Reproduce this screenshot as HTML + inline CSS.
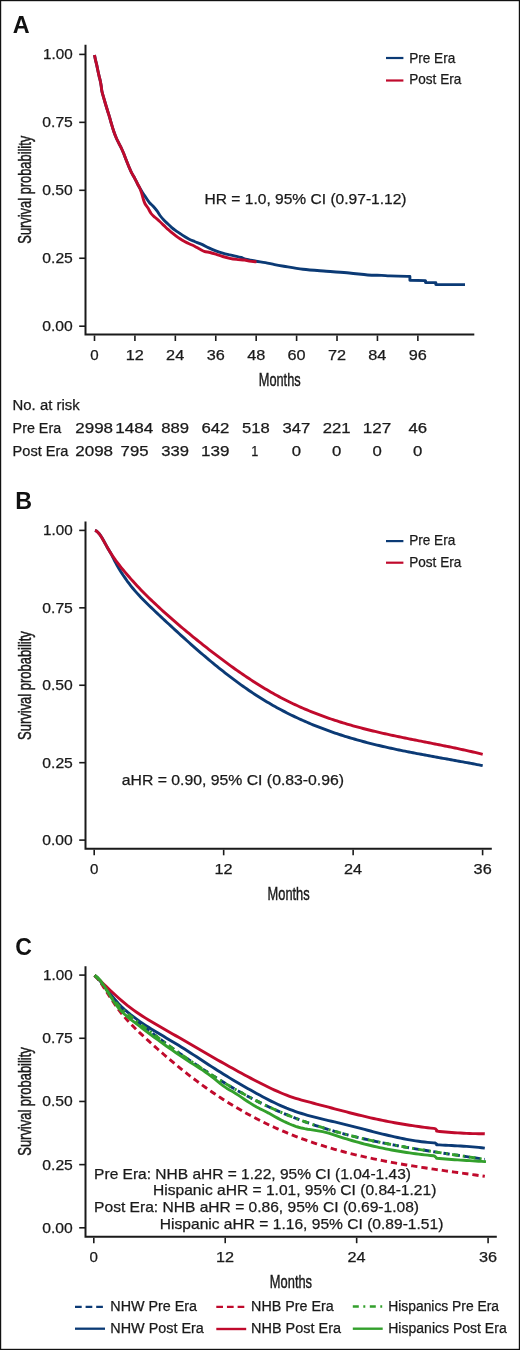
<!DOCTYPE html>
<html><head><meta charset="utf-8"><title>Survival curves</title>
<style>html,body{margin:0;padding:0;background:#fff;}svg{display:block;font-family:"Liberation Sans",sans-serif;will-change:transform;}</style>
</head><body>
<svg width="520" height="1350" viewBox="0 0 520 1350">
<rect x="0" y="0" width="520" height="1350" fill="#fff"/>
<rect x="0.6" y="0.6" width="518.8" height="1348.8" fill="none" stroke="#111" stroke-width="1.2"/>
<text x="12.72" y="32.70" font-size="24.00" font-weight="bold" textLength="16.90" lengthAdjust="spacingAndGlyphs" fill="#111">A</text>
<path d="M85.5,44.80 V334.50 H474.30" fill="none" stroke="#1a1a1a" stroke-width="2"/>
<line x1="79.2" x2="85" y1="54.40" y2="54.40" stroke="#1a1a1a" stroke-width="1.6"/>
<text x="43.14" y="59.40" font-size="14.40" textLength="29.66" lengthAdjust="spacingAndGlyphs" fill="#1a1a1a" stroke="#1a1a1a" stroke-width="0.25">1.00</text>
<line x1="79.2" x2="85" y1="122.35" y2="122.35" stroke="#1a1a1a" stroke-width="1.6"/>
<text x="42.29" y="127.35" font-size="14.40" textLength="30.57" lengthAdjust="spacingAndGlyphs" fill="#1a1a1a" stroke="#1a1a1a" stroke-width="0.25">0.75</text>
<line x1="79.2" x2="85" y1="190.30" y2="190.30" stroke="#1a1a1a" stroke-width="1.6"/>
<text x="42.29" y="195.30" font-size="14.40" textLength="30.53" lengthAdjust="spacingAndGlyphs" fill="#1a1a1a" stroke="#1a1a1a" stroke-width="0.25">0.50</text>
<line x1="79.2" x2="85" y1="258.25" y2="258.25" stroke="#1a1a1a" stroke-width="1.6"/>
<text x="42.29" y="263.25" font-size="14.40" textLength="30.57" lengthAdjust="spacingAndGlyphs" fill="#1a1a1a" stroke="#1a1a1a" stroke-width="0.25">0.25</text>
<line x1="79.2" x2="85" y1="326.20" y2="326.20" stroke="#1a1a1a" stroke-width="1.6"/>
<text x="42.29" y="331.20" font-size="14.40" textLength="30.53" lengthAdjust="spacingAndGlyphs" fill="#1a1a1a" stroke="#1a1a1a" stroke-width="0.25">0.00</text>
<line x1="94.50" x2="94.50" y1="335.50" y2="341.00" stroke="#1a1a1a" stroke-width="1.6"/>
<text x="90.30" y="359.60" font-size="14.40" textLength="8.41" lengthAdjust="spacingAndGlyphs" fill="#1a1a1a" stroke="#1a1a1a" stroke-width="0.25">0</text>
<line x1="134.92" x2="134.92" y1="335.50" y2="341.00" stroke="#1a1a1a" stroke-width="1.6"/>
<text x="125.66" y="359.60" font-size="14.40" textLength="18.10" lengthAdjust="spacingAndGlyphs" fill="#1a1a1a" stroke="#1a1a1a" stroke-width="0.25">12</text>
<line x1="175.34" x2="175.34" y1="335.50" y2="341.00" stroke="#1a1a1a" stroke-width="1.6"/>
<text x="166.12" y="359.60" font-size="14.40" textLength="18.10" lengthAdjust="spacingAndGlyphs" fill="#1a1a1a" stroke="#1a1a1a" stroke-width="0.25">24</text>
<line x1="215.76" x2="215.76" y1="335.50" y2="341.00" stroke="#1a1a1a" stroke-width="1.6"/>
<text x="206.76" y="359.60" font-size="14.40" textLength="18.10" lengthAdjust="spacingAndGlyphs" fill="#1a1a1a" stroke="#1a1a1a" stroke-width="0.25">36</text>
<line x1="256.18" x2="256.18" y1="335.50" y2="341.00" stroke="#1a1a1a" stroke-width="1.6"/>
<text x="247.30" y="359.60" font-size="14.40" textLength="18.10" lengthAdjust="spacingAndGlyphs" fill="#1a1a1a" stroke="#1a1a1a" stroke-width="0.25">48</text>
<line x1="296.60" x2="296.60" y1="335.50" y2="341.00" stroke="#1a1a1a" stroke-width="1.6"/>
<text x="287.45" y="359.60" font-size="14.40" textLength="18.10" lengthAdjust="spacingAndGlyphs" fill="#1a1a1a" stroke="#1a1a1a" stroke-width="0.25">60</text>
<line x1="337.02" x2="337.02" y1="335.50" y2="341.00" stroke="#1a1a1a" stroke-width="1.6"/>
<text x="327.96" y="359.60" font-size="14.40" textLength="18.10" lengthAdjust="spacingAndGlyphs" fill="#1a1a1a" stroke="#1a1a1a" stroke-width="0.25">72</text>
<line x1="377.44" x2="377.44" y1="335.50" y2="341.00" stroke="#1a1a1a" stroke-width="1.6"/>
<text x="368.28" y="359.60" font-size="14.40" textLength="18.10" lengthAdjust="spacingAndGlyphs" fill="#1a1a1a" stroke="#1a1a1a" stroke-width="0.25">84</text>
<line x1="417.86" x2="417.86" y1="335.50" y2="341.00" stroke="#1a1a1a" stroke-width="1.6"/>
<text x="408.79" y="359.60" font-size="14.40" textLength="18.10" lengthAdjust="spacingAndGlyphs" fill="#1a1a1a" stroke="#1a1a1a" stroke-width="0.25">96</text>
<text x="258.75" y="385.60" font-size="19.20" textLength="41.91" lengthAdjust="spacingAndGlyphs" fill="#1a1a1a" stroke="#1a1a1a" stroke-width="0.45">Months</text>
<g transform="translate(31.20,0) rotate(-90)"><text x="-243.68" y="0.00" font-size="19.00" textLength="107.91" lengthAdjust="spacingAndGlyphs" fill="#1a1a1a" stroke="#1a1a1a" stroke-width="0.45">Survival probability</text></g>
<line x1="386" x2="403.4" y1="58" y2="58" stroke="#0b3a75" stroke-width="2.2"/>
<line x1="386" x2="403.4" y1="80.5" y2="80.5" stroke="#c00a2c" stroke-width="2.2"/>
<text x="409.18" y="62.60" font-size="14.20" textLength="46.12" lengthAdjust="spacingAndGlyphs" fill="#1a1a1a" stroke="#1a1a1a" stroke-width="0.25">Pre Era</text>
<text x="409.19" y="84.40" font-size="14.20" textLength="52.11" lengthAdjust="spacingAndGlyphs" fill="#1a1a1a" stroke="#1a1a1a" stroke-width="0.25">Post Era</text>
<text x="204.52" y="203.80" font-size="14.40" textLength="202.04" lengthAdjust="spacingAndGlyphs" fill="#1a1a1a" stroke="#1a1a1a" stroke-width="0.25">HR = 1.0, 95% CI (0.97-1.12)</text>
<text x="12.58" y="409.50" font-size="14.00" textLength="67.00" lengthAdjust="spacingAndGlyphs" fill="#1a1a1a" stroke="#1a1a1a" stroke-width="0.25">No. at risk</text>
<text x="12.63" y="432.50" font-size="14.00" textLength="48.47" lengthAdjust="spacingAndGlyphs" fill="#1a1a1a" stroke="#1a1a1a" stroke-width="0.25">Pre Era</text>
<text x="12.60" y="455.50" font-size="14.00" textLength="55.90" lengthAdjust="spacingAndGlyphs" fill="#1a1a1a" stroke="#1a1a1a" stroke-width="0.25">Post Era</text>
<text x="75.25" y="432.80" font-size="13.80" textLength="37.79" lengthAdjust="spacingAndGlyphs" fill="#1a1a1a" stroke="#1a1a1a" stroke-width="0.25">2998</text>
<text x="75.25" y="455.50" font-size="13.80" textLength="37.79" lengthAdjust="spacingAndGlyphs" fill="#1a1a1a" stroke="#1a1a1a" stroke-width="0.25">2098</text>
<text x="115.22" y="432.80" font-size="13.80" textLength="38.00" lengthAdjust="spacingAndGlyphs" fill="#1a1a1a" stroke="#1a1a1a" stroke-width="0.25">1484</text>
<text x="120.61" y="455.50" font-size="13.80" textLength="27.86" lengthAdjust="spacingAndGlyphs" fill="#1a1a1a" stroke="#1a1a1a" stroke-width="0.25">795</text>
<text x="161.17" y="432.80" font-size="13.80" textLength="27.81" lengthAdjust="spacingAndGlyphs" fill="#1a1a1a" stroke="#1a1a1a" stroke-width="0.25">889</text>
<text x="161.26" y="455.50" font-size="13.80" textLength="27.72" lengthAdjust="spacingAndGlyphs" fill="#1a1a1a" stroke="#1a1a1a" stroke-width="0.25">339</text>
<text x="201.46" y="432.80" font-size="13.80" textLength="28.00" lengthAdjust="spacingAndGlyphs" fill="#1a1a1a" stroke="#1a1a1a" stroke-width="0.25">642</text>
<text x="201.01" y="455.50" font-size="13.80" textLength="28.40" lengthAdjust="spacingAndGlyphs" fill="#1a1a1a" stroke="#1a1a1a" stroke-width="0.25">139</text>
<text x="242.07" y="432.80" font-size="13.80" textLength="27.69" lengthAdjust="spacingAndGlyphs" fill="#1a1a1a" stroke="#1a1a1a" stroke-width="0.25">518</text>
<text x="251.36" y="455.50" font-size="13.80" textLength="7.09" lengthAdjust="spacingAndGlyphs" fill="#1a1a1a" stroke="#1a1a1a" stroke-width="0.25">1</text>
<text x="282.52" y="432.80" font-size="13.80" textLength="27.77" lengthAdjust="spacingAndGlyphs" fill="#1a1a1a" stroke="#1a1a1a" stroke-width="0.25">347</text>
<text x="291.65" y="455.50" font-size="13.80" textLength="9.31" lengthAdjust="spacingAndGlyphs" fill="#1a1a1a" stroke="#1a1a1a" stroke-width="0.25">0</text>
<text x="322.73" y="432.80" font-size="13.80" textLength="27.96" lengthAdjust="spacingAndGlyphs" fill="#1a1a1a" stroke="#1a1a1a" stroke-width="0.25">221</text>
<text x="332.07" y="455.50" font-size="13.80" textLength="9.31" lengthAdjust="spacingAndGlyphs" fill="#1a1a1a" stroke="#1a1a1a" stroke-width="0.25">0</text>
<text x="362.69" y="432.80" font-size="13.80" textLength="28.46" lengthAdjust="spacingAndGlyphs" fill="#1a1a1a" stroke="#1a1a1a" stroke-width="0.25">127</text>
<text x="372.49" y="455.50" font-size="13.80" textLength="9.31" lengthAdjust="spacingAndGlyphs" fill="#1a1a1a" stroke="#1a1a1a" stroke-width="0.25">0</text>
<text x="408.43" y="432.80" font-size="13.80" textLength="18.62" lengthAdjust="spacingAndGlyphs" fill="#1a1a1a" stroke="#1a1a1a" stroke-width="0.25">46</text>
<text x="412.91" y="455.50" font-size="13.80" textLength="9.31" lengthAdjust="spacingAndGlyphs" fill="#1a1a1a" stroke="#1a1a1a" stroke-width="0.25">0</text>
<path d="M94.50,55.00 C94.67,55.83 95.12,58.27 95.50,60.00 C95.88,61.73 96.40,63.60 96.80,65.40 C97.20,67.20 97.52,69.00 97.90,70.80 C98.28,72.60 98.68,74.42 99.10,76.20 C99.52,77.98 100.05,79.87 100.40,81.50 C100.75,83.13 100.95,84.38 101.20,86.00 C101.45,87.62 101.47,89.18 101.90,91.20 C102.33,93.22 103.15,95.80 103.80,98.10 C104.45,100.40 105.15,102.82 105.80,105.00 C106.45,107.18 107.07,109.15 107.70,111.20 C108.33,113.25 109.02,115.33 109.60,117.30 C110.18,119.27 110.50,120.63 111.20,123.00 C111.90,125.37 112.97,129.05 113.80,131.50 C114.63,133.95 115.37,135.77 116.20,137.70 C117.03,139.63 117.92,141.30 118.80,143.10 C119.68,144.90 120.67,146.72 121.50,148.50 C122.33,150.28 123.02,151.88 123.80,153.80 C124.58,155.72 125.37,157.88 126.20,160.00 C127.03,162.12 127.92,164.38 128.80,166.50 C129.68,168.62 130.53,170.77 131.50,172.70 C132.47,174.63 133.63,176.30 134.60,178.10 C135.57,179.90 136.48,181.93 137.30,183.50 C138.12,185.07 138.62,185.97 139.50,187.50 C140.38,189.03 141.57,191.07 142.60,192.70 C143.63,194.33 144.55,195.63 145.70,197.30 C146.85,198.97 148.22,201.17 149.50,202.70 C150.78,204.23 152.12,205.08 153.40,206.50 C154.68,207.92 156.10,209.70 157.20,211.20 C158.30,212.70 158.90,214.03 160.00,215.50 C161.10,216.97 162.52,218.62 163.80,220.00 C165.08,221.38 166.42,222.58 167.70,223.80 C168.98,225.02 170.22,226.20 171.50,227.30 C172.78,228.40 173.98,229.37 175.40,230.40 C176.82,231.43 178.47,232.48 180.00,233.50 C181.53,234.52 183.07,235.55 184.60,236.50 C186.13,237.45 187.53,238.37 189.20,239.20 C190.87,240.03 192.48,240.63 194.60,241.50 C196.72,242.37 199.53,243.33 201.90,244.40 C204.27,245.47 206.48,246.83 208.80,247.90 C211.12,248.97 213.48,249.93 215.80,250.80 C218.12,251.67 220.40,252.43 222.70,253.10 C225.00,253.77 227.30,254.27 229.60,254.80 C231.90,255.33 234.58,255.85 236.50,256.30 C238.42,256.75 239.35,256.97 241.10,257.50 C242.85,258.03 244.52,258.88 247.00,259.50 C249.48,260.12 252.93,260.68 256.00,261.20 C259.07,261.72 262.30,262.03 265.40,262.60 C268.50,263.17 271.53,264.00 274.60,264.60 C277.67,265.20 279.07,265.43 283.80,266.20 C288.53,266.97 295.93,268.37 303.00,269.20 C310.07,270.03 318.48,270.57 326.20,271.20 C333.92,271.83 342.38,272.37 349.30,273.00 C356.22,273.63 362.32,274.60 367.70,275.00 C373.08,275.40 377.88,275.25 381.60,275.40 C385.32,275.55 385.72,275.73 390.00,275.90 C394.28,276.07 404.42,276.32 407.30,276.40 L409.90,276.40 L409.90,280.20 L425.50,280.60 L425.50,282.50 L435.80,282.60 L435.80,284.60 L465.00,284.60" fill="none" stroke="#0b3a75" stroke-width="2.9" stroke-linejoin="round"/>
<path d="M94.50,55.00 C94.67,55.83 95.12,58.27 95.50,60.00 C95.88,61.73 96.40,63.60 96.80,65.40 C97.20,67.20 97.52,69.00 97.90,70.80 C98.28,72.60 98.68,74.42 99.10,76.20 C99.52,77.98 100.05,79.87 100.40,81.50 C100.75,83.13 100.95,84.38 101.20,86.00 C101.45,87.62 101.47,89.18 101.90,91.20 C102.33,93.22 103.15,95.80 103.80,98.10 C104.45,100.40 105.15,102.82 105.80,105.00 C106.45,107.18 107.07,109.15 107.70,111.20 C108.33,113.25 109.02,115.33 109.60,117.30 C110.18,119.27 110.50,120.63 111.20,123.00 C111.90,125.37 112.97,129.05 113.80,131.50 C114.63,133.95 115.37,135.77 116.20,137.70 C117.03,139.63 117.92,141.30 118.80,143.10 C119.68,144.90 120.67,146.72 121.50,148.50 C122.33,150.28 123.02,151.88 123.80,153.80 C124.58,155.72 125.37,157.88 126.20,160.00 C127.03,162.12 127.92,164.38 128.80,166.50 C129.68,168.62 130.53,170.77 131.50,172.70 C132.47,174.63 133.63,176.30 134.60,178.10 C135.57,179.90 136.48,181.93 137.30,183.50 C138.12,185.07 138.80,185.97 139.50,187.50 C140.20,189.03 140.92,190.93 141.50,192.70 C142.08,194.47 142.43,196.30 143.00,198.10 C143.57,199.90 144.07,201.83 144.90,203.50 C145.73,205.17 146.97,206.43 148.00,208.10 C149.03,209.77 149.95,211.97 151.10,213.50 C152.25,215.03 153.50,216.02 154.90,217.30 C156.30,218.58 158.02,219.85 159.50,221.20 C160.98,222.55 162.43,224.07 163.80,225.40 C165.17,226.73 166.42,228.05 167.70,229.20 C168.98,230.35 170.08,231.13 171.50,232.30 C172.92,233.47 174.78,235.12 176.20,236.20 C177.62,237.28 178.60,237.92 180.00,238.80 C181.40,239.68 183.07,240.67 184.60,241.50 C186.13,242.33 187.53,243.02 189.20,243.80 C190.87,244.58 192.87,245.33 194.60,246.20 C196.33,247.07 198.00,248.15 199.60,249.00 C201.20,249.85 202.47,250.72 204.20,251.30 C205.93,251.88 208.07,252.02 210.00,252.50 C211.93,252.98 213.68,253.53 215.80,254.20 C217.92,254.87 220.40,255.82 222.70,256.50 C225.00,257.18 227.30,257.82 229.60,258.30 C231.90,258.78 234.00,259.12 236.50,259.40 C239.00,259.68 242.48,259.72 244.60,260.00 C246.72,260.28 247.22,260.78 249.20,261.10 C251.18,261.42 255.28,261.77 256.50,261.90" fill="none" stroke="#c00a2c" stroke-width="2.9" stroke-linejoin="round"/>
<text x="15.24" y="509.40" font-size="24.00" font-weight="bold" textLength="16.81" lengthAdjust="spacingAndGlyphs" fill="#111">B</text>
<path d="M85.5,521.50 V848.80 H491.80" fill="none" stroke="#1a1a1a" stroke-width="2"/>
<line x1="79.2" x2="85" y1="530.40" y2="530.40" stroke="#1a1a1a" stroke-width="1.6"/>
<text x="43.14" y="535.40" font-size="14.40" textLength="29.66" lengthAdjust="spacingAndGlyphs" fill="#1a1a1a" stroke="#1a1a1a" stroke-width="0.25">1.00</text>
<line x1="79.2" x2="85" y1="607.83" y2="607.83" stroke="#1a1a1a" stroke-width="1.6"/>
<text x="42.29" y="612.83" font-size="14.40" textLength="30.57" lengthAdjust="spacingAndGlyphs" fill="#1a1a1a" stroke="#1a1a1a" stroke-width="0.25">0.75</text>
<line x1="79.2" x2="85" y1="685.25" y2="685.25" stroke="#1a1a1a" stroke-width="1.6"/>
<text x="42.29" y="690.25" font-size="14.40" textLength="30.53" lengthAdjust="spacingAndGlyphs" fill="#1a1a1a" stroke="#1a1a1a" stroke-width="0.25">0.50</text>
<line x1="79.2" x2="85" y1="762.68" y2="762.68" stroke="#1a1a1a" stroke-width="1.6"/>
<text x="42.29" y="767.68" font-size="14.40" textLength="30.57" lengthAdjust="spacingAndGlyphs" fill="#1a1a1a" stroke="#1a1a1a" stroke-width="0.25">0.25</text>
<line x1="79.2" x2="85" y1="840.10" y2="840.10" stroke="#1a1a1a" stroke-width="1.6"/>
<text x="42.29" y="845.10" font-size="14.40" textLength="30.53" lengthAdjust="spacingAndGlyphs" fill="#1a1a1a" stroke="#1a1a1a" stroke-width="0.25">0.00</text>
<line x1="94.20" x2="94.20" y1="849.80" y2="855.30" stroke="#1a1a1a" stroke-width="1.6"/>
<text x="90.00" y="874.20" font-size="14.40" textLength="8.41" lengthAdjust="spacingAndGlyphs" fill="#1a1a1a" stroke="#1a1a1a" stroke-width="0.25">0</text>
<line x1="223.67" x2="223.67" y1="849.80" y2="855.30" stroke="#1a1a1a" stroke-width="1.6"/>
<text x="214.41" y="874.20" font-size="14.40" textLength="18.10" lengthAdjust="spacingAndGlyphs" fill="#1a1a1a" stroke="#1a1a1a" stroke-width="0.25">12</text>
<line x1="353.14" x2="353.14" y1="849.80" y2="855.30" stroke="#1a1a1a" stroke-width="1.6"/>
<text x="343.92" y="874.20" font-size="14.40" textLength="18.10" lengthAdjust="spacingAndGlyphs" fill="#1a1a1a" stroke="#1a1a1a" stroke-width="0.25">24</text>
<line x1="482.61" x2="482.61" y1="849.80" y2="855.30" stroke="#1a1a1a" stroke-width="1.6"/>
<text x="473.61" y="874.20" font-size="14.40" textLength="18.10" lengthAdjust="spacingAndGlyphs" fill="#1a1a1a" stroke="#1a1a1a" stroke-width="0.25">36</text>
<text x="267.55" y="899.90" font-size="19.20" textLength="42.12" lengthAdjust="spacingAndGlyphs" fill="#1a1a1a" stroke="#1a1a1a" stroke-width="0.45">Months</text>
<g transform="translate(31.20,0) rotate(-90)"><text x="-739.89" y="0.00" font-size="19.00" textLength="108.71" lengthAdjust="spacingAndGlyphs" fill="#1a1a1a" stroke="#1a1a1a" stroke-width="0.45">Survival probability</text></g>
<line x1="386" x2="403.4" y1="541.1" y2="541.1" stroke="#0b3a75" stroke-width="2.2"/>
<line x1="386" x2="403.4" y1="562.7" y2="562.7" stroke="#c00a2c" stroke-width="2.2"/>
<text x="409.18" y="545.40" font-size="14.20" textLength="46.12" lengthAdjust="spacingAndGlyphs" fill="#1a1a1a" stroke="#1a1a1a" stroke-width="0.25">Pre Era</text>
<text x="409.19" y="567.40" font-size="14.20" textLength="52.11" lengthAdjust="spacingAndGlyphs" fill="#1a1a1a" stroke="#1a1a1a" stroke-width="0.25">Post Era</text>
<text x="121.73" y="784.50" font-size="14.00" textLength="222.35" lengthAdjust="spacingAndGlyphs" fill="#1a1a1a" stroke="#1a1a1a" stroke-width="0.25">aHR = 0.90, 95% CI (0.83-0.96)</text>
<path d="M95.00,530.44 L95.70,530.71 L96.40,531.11 L97.00,531.54 L97.10,531.62 L97.80,532.24 L98.50,532.97 L99.00,533.54 L99.20,533.78 L99.90,534.69 L100.60,535.67 L101.00,536.26 L101.30,536.72 L102.00,537.85 L102.70,539.02 L103.00,539.55 L103.40,540.25 L104.10,541.52 L104.80,542.82 L105.00,543.20 L105.50,544.13 L106.20,545.44 L106.90,546.73 L107.00,546.91 L107.60,547.99 L108.30,549.21 L109.00,550.37 L109.70,551.49 L110.40,552.63 L111.00,553.65 L111.10,553.82 L111.80,555.11 L112.50,556.49 L113.00,557.52 L113.20,557.93 L113.90,559.37 L114.60,560.77 L115.00,561.55 L115.30,562.13 L116.00,563.44 L117.00,565.25 L119.00,568.68 L121.00,571.91 L123.00,575.00 L125.00,577.94 L127.00,580.76 L129.00,583.45 L131.00,586.02 L133.00,588.49 L135.00,590.86 L137.00,593.15 L139.00,595.35 L141.00,597.49 L143.00,599.56 L145.00,601.58 L147.00,603.56 L149.00,605.50 L151.00,607.42 L153.00,609.31 L155.00,611.20 L157.00,613.09 L159.00,614.97 L161.00,616.85 L163.00,618.72 L165.00,620.59 L167.00,622.45 L169.00,624.31 L171.00,626.16 L173.00,628.01 L175.00,629.85 L177.00,631.68 L179.00,633.51 L181.00,635.32 L183.00,637.14 L185.00,638.94 L187.00,640.73 L189.00,642.52 L191.00,644.30 L193.00,646.06 L195.00,647.82 L197.00,649.57 L199.00,651.31 L201.00,653.03 L203.00,654.75 L205.00,656.45 L207.00,658.15 L209.00,659.83 L211.00,661.50 L213.00,663.15 L215.00,664.80 L217.00,666.43 L219.00,668.04 L221.00,669.65 L223.00,671.23 L225.00,672.81 L227.00,674.37 L229.00,675.91 L231.00,677.44 L233.00,678.95 L235.00,680.45 L237.00,681.93 L239.00,683.39 L241.00,684.83 L243.00,686.26 L245.00,687.67 L247.00,689.06 L249.00,690.44 L251.00,691.79 L253.00,693.13 L255.00,694.44 L257.00,695.74 L259.00,697.01 L261.00,698.27 L263.00,699.51 L265.00,700.73 L267.00,701.93 L269.00,703.11 L271.00,704.27 L273.00,705.41 L275.00,706.54 L277.00,707.65 L279.00,708.74 L281.00,709.82 L283.00,710.87 L285.00,711.91 L287.00,712.94 L289.00,713.94 L291.00,714.93 L293.00,715.91 L295.00,716.87 L297.00,717.81 L299.00,718.74 L301.00,719.65 L303.00,720.54 L305.00,721.43 L307.00,722.29 L309.00,723.15 L311.00,723.99 L313.00,724.81 L315.00,725.62 L317.00,726.42 L319.00,727.20 L321.00,727.97 L323.00,728.73 L325.00,729.48 L327.00,730.21 L329.00,730.93 L331.00,731.64 L333.00,732.33 L335.00,733.02 L337.00,733.69 L339.00,734.35 L341.00,735.00 L343.00,735.64 L345.00,736.27 L347.00,736.89 L349.00,737.50 L351.00,738.10 L353.00,738.69 L355.00,739.26 L357.00,739.83 L359.00,740.39 L361.00,740.94 L363.00,741.49 L365.00,742.02 L367.00,742.54 L369.00,743.06 L371.00,743.57 L373.00,744.07 L375.00,744.56 L377.00,745.05 L379.00,745.53 L381.00,746.00 L383.00,746.47 L385.00,746.93 L387.00,747.38 L389.00,747.82 L391.00,748.27 L393.00,748.70 L395.00,749.13 L397.00,749.55 L399.00,749.97 L401.00,750.39 L403.00,750.80 L405.00,751.20 L407.00,751.60 L409.00,752.00 L411.00,752.39 L413.00,752.78 L415.00,753.17 L417.00,753.55 L419.00,753.93 L421.00,754.30 L423.00,754.68 L425.00,755.05 L427.00,755.42 L429.00,755.79 L431.00,756.15 L433.00,756.52 L435.00,756.88 L437.00,757.24 L439.00,757.60 L441.00,757.97 L443.00,758.32 L445.00,758.68 L447.00,759.04 L449.00,759.40 L451.00,759.76 L453.00,760.12 L455.00,760.49 L457.00,760.85 L459.00,761.21 L461.00,761.58 L463.00,761.94 L465.00,762.31 L467.00,762.68 L469.00,763.05 L471.00,763.43 L473.00,763.80 L475.00,764.18 L477.00,764.57 L479.00,764.95 L481.00,765.34 L482.70,765.68" fill="none" stroke="#0b3a75" stroke-width="2.9" stroke-linejoin="round"/>
<path d="M95.00,530.41 L95.70,530.65 L96.40,531.04 L97.00,531.47 L97.10,531.56 L97.80,532.20 L98.50,532.95 L99.00,533.55 L99.20,533.80 L99.90,534.74 L100.60,535.76 L101.00,536.37 L101.30,536.85 L102.00,537.99 L102.70,539.17 L103.00,539.69 L103.40,540.39 L104.10,541.63 L104.80,542.88 L105.00,543.24 L105.50,544.13 L106.20,545.39 L106.90,546.63 L107.00,546.80 L107.60,547.85 L108.30,549.06 L109.00,550.24 L109.70,551.39 L110.40,552.52 L111.00,553.47 L111.10,553.63 L111.80,554.71 L112.50,555.77 L113.00,556.52 L113.20,556.81 L113.90,557.83 L114.60,558.83 L115.00,559.39 L115.30,559.81 L116.00,560.78 L117.00,562.13 L119.00,564.75 L121.00,567.28 L123.00,569.74 L125.00,572.14 L127.00,574.51 L129.00,576.82 L131.00,579.10 L133.00,581.33 L135.00,583.52 L137.00,585.68 L139.00,587.80 L141.00,589.88 L143.00,591.94 L145.00,593.96 L147.00,595.95 L149.00,597.92 L151.00,599.86 L153.00,601.78 L155.00,603.67 L157.00,605.55 L159.00,607.40 L161.00,609.24 L163.00,611.07 L165.00,612.87 L167.00,614.66 L169.00,616.44 L171.00,618.20 L173.00,619.95 L175.00,621.69 L177.00,623.41 L179.00,625.12 L181.00,626.81 L183.00,628.50 L185.00,630.17 L187.00,631.83 L189.00,633.49 L191.00,635.13 L193.00,636.76 L195.00,638.38 L197.00,640.00 L199.00,641.61 L201.00,643.21 L203.00,644.80 L205.00,646.38 L207.00,647.96 L209.00,649.52 L211.00,651.08 L213.00,652.63 L215.00,654.16 L217.00,655.69 L219.00,657.21 L221.00,658.71 L223.00,660.21 L225.00,661.70 L227.00,663.17 L229.00,664.63 L231.00,666.08 L233.00,667.52 L235.00,668.95 L237.00,670.36 L239.00,671.76 L241.00,673.15 L243.00,674.52 L245.00,675.88 L247.00,677.22 L249.00,678.55 L251.00,679.87 L253.00,681.17 L255.00,682.46 L257.00,683.73 L259.00,684.98 L261.00,686.22 L263.00,687.45 L265.00,688.65 L267.00,689.84 L269.00,691.01 L271.00,692.17 L273.00,693.31 L275.00,694.43 L277.00,695.53 L279.00,696.61 L281.00,697.67 L283.00,698.72 L285.00,699.75 L287.00,700.76 L289.00,701.75 L291.00,702.73 L293.00,703.69 L295.00,704.63 L297.00,705.55 L299.00,706.46 L301.00,707.35 L303.00,708.23 L305.00,709.09 L307.00,709.94 L309.00,710.77 L311.00,711.59 L313.00,712.39 L315.00,713.18 L317.00,713.95 L319.00,714.71 L321.00,715.46 L323.00,716.19 L325.00,716.92 L327.00,717.62 L329.00,718.32 L331.00,719.00 L333.00,719.67 L335.00,720.33 L337.00,720.98 L339.00,721.62 L341.00,722.25 L343.00,722.86 L345.00,723.47 L347.00,724.06 L349.00,724.65 L351.00,725.22 L353.00,725.79 L355.00,726.34 L357.00,726.89 L359.00,727.43 L361.00,727.96 L363.00,728.48 L365.00,729.00 L367.00,729.50 L369.00,730.00 L371.00,730.49 L373.00,730.98 L375.00,731.46 L377.00,731.93 L379.00,732.40 L381.00,732.86 L383.00,733.31 L385.00,733.76 L387.00,734.20 L389.00,734.64 L391.00,735.08 L393.00,735.51 L395.00,735.93 L397.00,736.35 L399.00,736.77 L401.00,737.19 L403.00,737.60 L405.00,738.01 L407.00,738.41 L409.00,738.82 L411.00,739.22 L413.00,739.62 L415.00,740.02 L417.00,740.41 L419.00,740.81 L421.00,741.20 L423.00,741.60 L425.00,741.99 L427.00,742.38 L429.00,742.78 L431.00,743.17 L433.00,743.57 L435.00,743.96 L437.00,744.36 L439.00,744.76 L441.00,745.16 L443.00,745.56 L445.00,745.96 L447.00,746.37 L449.00,746.78 L451.00,747.19 L453.00,747.60 L455.00,748.02 L457.00,748.44 L459.00,748.87 L461.00,749.30 L463.00,749.73 L465.00,750.17 L467.00,750.62 L469.00,751.07 L471.00,751.52 L473.00,751.98 L475.00,752.45 L477.00,752.92 L479.00,753.40 L481.00,753.88 L482.70,754.30" fill="none" stroke="#c00a2c" stroke-width="2.9" stroke-linejoin="round"/>
<text x="15.25" y="954.70" font-size="24.00" font-weight="bold" textLength="16.68" lengthAdjust="spacingAndGlyphs" fill="#111">C</text>
<path d="M85.5,966.30 V1236.70 H496.80" fill="none" stroke="#1a1a1a" stroke-width="2"/>
<line x1="79.2" x2="85" y1="975.10" y2="975.10" stroke="#1a1a1a" stroke-width="1.6"/>
<text x="43.14" y="980.10" font-size="14.40" textLength="29.66" lengthAdjust="spacingAndGlyphs" fill="#1a1a1a" stroke="#1a1a1a" stroke-width="0.25">1.00</text>
<line x1="79.2" x2="85" y1="1038.28" y2="1038.28" stroke="#1a1a1a" stroke-width="1.6"/>
<text x="42.29" y="1043.28" font-size="14.40" textLength="30.57" lengthAdjust="spacingAndGlyphs" fill="#1a1a1a" stroke="#1a1a1a" stroke-width="0.25">0.75</text>
<line x1="79.2" x2="85" y1="1101.45" y2="1101.45" stroke="#1a1a1a" stroke-width="1.6"/>
<text x="42.29" y="1106.45" font-size="14.40" textLength="30.53" lengthAdjust="spacingAndGlyphs" fill="#1a1a1a" stroke="#1a1a1a" stroke-width="0.25">0.50</text>
<line x1="79.2" x2="85" y1="1164.62" y2="1164.62" stroke="#1a1a1a" stroke-width="1.6"/>
<text x="42.29" y="1169.62" font-size="14.40" textLength="30.57" lengthAdjust="spacingAndGlyphs" fill="#1a1a1a" stroke="#1a1a1a" stroke-width="0.25">0.25</text>
<line x1="79.2" x2="85" y1="1227.80" y2="1227.80" stroke="#1a1a1a" stroke-width="1.6"/>
<text x="42.29" y="1232.80" font-size="14.40" textLength="30.53" lengthAdjust="spacingAndGlyphs" fill="#1a1a1a" stroke="#1a1a1a" stroke-width="0.25">0.00</text>
<line x1="93.80" x2="93.80" y1="1237.70" y2="1243.20" stroke="#1a1a1a" stroke-width="1.6"/>
<text x="89.60" y="1261.70" font-size="14.40" textLength="8.41" lengthAdjust="spacingAndGlyphs" fill="#1a1a1a" stroke="#1a1a1a" stroke-width="0.25">0</text>
<line x1="225.23" x2="225.23" y1="1237.70" y2="1243.20" stroke="#1a1a1a" stroke-width="1.6"/>
<text x="215.97" y="1261.70" font-size="14.40" textLength="18.10" lengthAdjust="spacingAndGlyphs" fill="#1a1a1a" stroke="#1a1a1a" stroke-width="0.25">12</text>
<line x1="356.66" x2="356.66" y1="1237.70" y2="1243.20" stroke="#1a1a1a" stroke-width="1.6"/>
<text x="347.44" y="1261.70" font-size="14.40" textLength="18.10" lengthAdjust="spacingAndGlyphs" fill="#1a1a1a" stroke="#1a1a1a" stroke-width="0.25">24</text>
<line x1="488.09" x2="488.09" y1="1237.70" y2="1243.20" stroke="#1a1a1a" stroke-width="1.6"/>
<text x="479.09" y="1261.70" font-size="14.40" textLength="18.10" lengthAdjust="spacingAndGlyphs" fill="#1a1a1a" stroke="#1a1a1a" stroke-width="0.25">36</text>
<text x="269.84" y="1287.70" font-size="19.20" textLength="42.22" lengthAdjust="spacingAndGlyphs" fill="#1a1a1a" stroke="#1a1a1a" stroke-width="0.45">Months</text>
<g transform="translate(31.20,0) rotate(-90)"><text x="-1155.69" y="0.00" font-size="19.00" textLength="108.41" lengthAdjust="spacingAndGlyphs" fill="#1a1a1a" stroke="#1a1a1a" stroke-width="0.45">Survival probability</text></g>
<path d="M94.60,975.40 L97.60,978.24 L100.60,981.85 L103.60,985.96 L106.60,990.30 L109.60,994.60 L112.60,998.60 L115.60,1002.21 L118.60,1005.47 L121.60,1008.44 L124.60,1011.19 L127.60,1013.77 L130.60,1016.24 L133.60,1018.66 L136.60,1021.05 L139.60,1023.42 L142.60,1025.78 L145.60,1028.12 L148.60,1030.43 L151.60,1032.73 L154.60,1035.01 L157.60,1037.27 L160.60,1039.51 L163.60,1041.74 L166.60,1043.94 L169.60,1046.13 L172.60,1048.30 L175.60,1050.45 L178.60,1052.58 L181.60,1054.69 L184.60,1056.79 L187.60,1058.87 L190.60,1060.93 L193.60,1062.98 L196.60,1065.01 L199.60,1067.02 L202.60,1069.00 L205.60,1070.97 L208.60,1072.92 L211.60,1074.85 L214.60,1076.76 L217.60,1078.64 L220.60,1080.51 L223.60,1082.35 L226.60,1084.16 L229.60,1085.95 L232.60,1087.72 L235.60,1089.46 L238.60,1091.17 L241.60,1092.86 L244.60,1094.52 L247.60,1096.16 L250.60,1097.76 L253.60,1099.34 L256.60,1100.88 L259.60,1102.40 L262.60,1103.88 L265.60,1105.34 L268.60,1106.76 L271.60,1108.15 L274.60,1109.52 L277.60,1110.85 L280.60,1112.16 L283.60,1113.44 L286.60,1114.69 L289.60,1115.91 L292.60,1117.10 L295.60,1118.27 L298.60,1119.42 L301.60,1120.54 L304.60,1121.63 L307.60,1122.70 L310.60,1123.74 L313.60,1124.76 L316.60,1125.76 L319.60,1126.74 L322.60,1127.69 L325.60,1128.62 L328.60,1129.53 L331.60,1130.42 L334.60,1131.29 L337.60,1132.14 L340.60,1132.97 L343.60,1133.79 L346.60,1134.58 L349.60,1135.36 L352.60,1136.11 L355.60,1136.85 L358.60,1137.58 L361.60,1138.29 L364.60,1138.98 L367.60,1139.66 L370.60,1140.32 L373.60,1140.97 L376.60,1141.61 L379.60,1142.23 L382.60,1142.84 L385.60,1143.43 L388.60,1144.02 L391.60,1144.59 L394.60,1145.16 L397.60,1145.71 L400.60,1146.25 L403.60,1146.78 L406.60,1147.31 L409.60,1147.82 L412.60,1148.33 L415.60,1148.83 L418.60,1149.32 L421.60,1149.81 L424.60,1150.29 L427.60,1150.77 L430.60,1151.23 L433.60,1151.70 L436.60,1152.16 L439.60,1152.61 L442.60,1153.07 L445.60,1153.52 L448.60,1153.96 L451.60,1154.41 L454.60,1154.85 L457.60,1155.30 L460.60,1155.74 L463.60,1156.18 L466.60,1156.62 L469.60,1157.07 L472.60,1157.51 L475.60,1157.96 L478.60,1158.40 L481.60,1158.86 L484.60,1159.31 L484.80,1159.34" fill="none" stroke="#0b3a75" stroke-width="2.9" stroke-dasharray="6.3 4"/>
<path d="M94.60,975.40 L97.60,978.18 L100.60,981.46 L103.60,985.08 L106.60,988.92 L109.60,992.83 L112.60,996.67 L115.60,1000.30 L118.60,1003.64 L121.60,1006.71 L124.60,1009.53 L127.60,1012.16 L130.60,1014.63 L133.60,1016.96 L136.60,1019.20 L139.60,1021.34 L142.60,1023.40 L145.60,1025.39 L148.60,1027.32 L151.60,1029.20 L154.60,1031.03 L157.60,1032.83 L160.60,1034.61 L163.60,1036.37 L166.60,1038.13 L169.60,1039.89 L172.60,1041.67 L175.60,1043.47 L178.60,1045.31 L181.60,1047.18 L184.60,1049.07 L187.60,1050.99 L190.60,1052.92 L193.60,1054.87 L196.60,1056.82 L199.60,1058.78 L202.60,1060.75 L205.60,1062.71 L208.60,1064.67 L211.60,1066.61 L214.60,1068.54 L217.60,1070.45 L220.60,1072.34 L223.60,1074.21 L226.60,1076.05 L229.60,1077.87 L232.60,1079.67 L235.60,1081.45 L238.60,1083.21 L241.60,1084.95 L244.60,1086.68 L247.60,1088.39 L250.60,1090.09 L253.60,1091.78 L256.60,1093.44 L259.60,1095.09 L262.60,1096.71 L265.60,1098.29 L268.60,1099.84 L271.60,1101.35 L274.60,1102.82 L277.60,1104.24 L280.60,1105.61 L283.60,1106.92 L286.60,1108.18 L289.60,1109.36 L292.60,1110.48 L295.60,1111.55 L298.60,1112.55 L301.60,1113.50 L304.60,1114.41 L307.60,1115.28 L310.60,1116.10 L313.60,1116.90 L316.60,1117.66 L319.60,1118.41 L322.60,1119.13 L325.60,1119.85 L328.60,1120.55 L331.60,1121.25 L334.60,1121.95 L337.60,1122.65 L340.60,1123.36 L343.60,1124.09 L346.60,1124.83 L349.60,1125.59 L352.60,1126.35 L355.60,1127.12 L358.60,1127.90 L361.60,1128.67 L364.60,1129.45 L367.60,1130.23 L370.60,1131.01 L373.60,1131.78 L376.60,1132.54 L379.60,1133.30 L382.60,1134.04 L385.60,1134.77 L388.60,1135.48 L391.60,1136.18 L394.60,1136.86 L397.60,1137.51 L400.60,1138.14 L403.60,1138.74 L406.60,1139.32 L409.60,1139.86 L412.60,1140.37 L415.60,1140.85 L418.60,1141.29 L421.60,1141.69 L424.60,1142.05 L427.60,1142.37 L430.60,1142.65 L433.60,1142.90 L435.10,1143.01 L437.50,1144.61 L436.60,1144.73 L439.60,1144.92 L442.60,1145.10 L445.60,1145.27 L448.60,1145.42 L451.60,1145.57 L454.60,1145.72 L457.60,1145.87 L460.60,1146.03 L463.60,1146.21 L466.60,1146.40 L469.60,1146.61 L472.60,1146.84 L475.60,1147.11 L478.60,1147.41 L481.60,1147.75 L484.60,1148.13 L484.80,1148.16" fill="none" stroke="#0b3a75" stroke-width="2.9" stroke-linejoin="round"/>
<path d="M94.60,975.40 L97.60,978.40 L100.60,982.49 L103.60,987.12 L106.60,991.82 L109.60,996.47 L112.60,1001.02 L115.60,1005.41 L118.60,1009.58 L121.60,1013.49 L124.60,1017.14 L127.60,1020.55 L130.60,1023.77 L133.60,1026.83 L136.60,1029.77 L139.60,1032.62 L142.60,1035.41 L145.60,1038.19 L148.60,1040.93 L151.60,1043.65 L154.60,1046.34 L157.60,1049.01 L160.60,1051.65 L163.60,1054.26 L166.60,1056.85 L169.60,1059.40 L172.60,1061.92 L175.60,1064.41 L178.60,1066.88 L181.60,1069.30 L184.60,1071.70 L187.60,1074.06 L190.60,1076.39 L193.60,1078.69 L196.60,1080.95 L199.60,1083.17 L202.60,1085.36 L205.60,1087.51 L208.60,1089.63 L211.60,1091.71 L214.60,1093.75 L217.60,1095.76 L220.60,1097.73 L223.60,1099.67 L226.60,1101.58 L229.60,1103.45 L232.60,1105.28 L235.60,1107.09 L238.60,1108.85 L241.60,1110.59 L244.60,1112.29 L247.60,1113.95 L250.60,1115.59 L253.60,1117.19 L256.60,1118.75 L259.60,1120.29 L262.60,1121.79 L265.60,1123.26 L268.60,1124.70 L271.60,1126.10 L274.60,1127.48 L277.60,1128.83 L280.60,1130.14 L283.60,1131.43 L286.60,1132.69 L289.60,1133.92 L292.60,1135.12 L295.60,1136.29 L298.60,1137.44 L301.60,1138.56 L304.60,1139.66 L307.60,1140.73 L310.60,1141.77 L313.60,1142.79 L316.60,1143.79 L319.60,1144.76 L322.60,1145.71 L325.60,1146.64 L328.60,1147.55 L331.60,1148.43 L334.60,1149.29 L337.60,1150.14 L340.60,1150.96 L343.60,1151.76 L346.60,1152.55 L349.60,1153.31 L352.60,1154.06 L355.60,1154.79 L358.60,1155.50 L361.60,1156.20 L364.60,1156.88 L367.60,1157.54 L370.60,1158.19 L373.60,1158.82 L376.60,1159.44 L379.60,1160.05 L382.60,1160.64 L385.60,1161.22 L388.60,1161.78 L391.60,1162.34 L394.60,1162.88 L397.60,1163.42 L400.60,1163.94 L403.60,1164.45 L406.60,1164.95 L409.60,1165.45 L412.60,1165.93 L415.60,1166.41 L418.60,1166.88 L421.60,1167.34 L424.60,1167.80 L427.60,1168.25 L430.60,1168.70 L433.60,1169.14 L436.60,1169.57 L439.60,1170.00 L442.60,1170.43 L445.60,1170.85 L448.60,1171.28 L451.60,1171.69 L454.60,1172.11 L457.60,1172.53 L460.60,1172.94 L463.60,1173.36 L466.60,1173.77 L469.60,1174.19 L472.60,1174.61 L475.60,1175.03 L478.60,1175.45 L481.60,1175.87 L484.60,1176.30 L484.80,1176.33" fill="none" stroke="#c00a2c" stroke-width="2.9" stroke-dasharray="6.3 4"/>
<path d="M94.60,975.39 L97.60,978.20 L100.60,981.05 L103.60,983.93 L106.60,986.81 L109.60,989.68 L112.60,992.52 L115.60,995.30 L118.60,998.01 L121.60,1000.64 L124.60,1003.16 L127.60,1005.59 L130.60,1007.90 L133.60,1010.11 L136.60,1012.23 L139.60,1014.27 L142.60,1016.23 L145.60,1018.13 L148.60,1019.98 L151.60,1021.78 L154.60,1023.55 L157.60,1025.29 L160.60,1027.01 L163.60,1028.73 L166.60,1030.45 L169.60,1032.17 L172.60,1033.90 L175.60,1035.63 L178.60,1037.37 L181.60,1039.11 L184.60,1040.85 L187.60,1042.59 L190.60,1044.33 L193.60,1046.08 L196.60,1047.82 L199.60,1049.56 L202.60,1051.29 L205.60,1053.03 L208.60,1054.76 L211.60,1056.48 L214.60,1058.20 L217.60,1059.91 L220.60,1061.62 L223.60,1063.31 L226.60,1065.00 L229.60,1066.68 L232.60,1068.35 L235.60,1070.01 L238.60,1071.65 L241.60,1073.29 L244.60,1074.91 L247.60,1076.51 L250.60,1078.11 L253.60,1079.68 L256.60,1081.24 L259.60,1082.78 L262.60,1084.30 L265.60,1085.80 L268.60,1087.27 L271.60,1088.70 L274.60,1090.09 L277.60,1091.44 L280.60,1092.74 L283.60,1093.98 L286.60,1095.17 L289.60,1096.29 L292.60,1097.34 L295.60,1098.32 L298.60,1099.23 L301.60,1100.08 L304.60,1100.89 L307.60,1101.68 L310.60,1102.45 L313.60,1103.24 L316.60,1104.03 L319.60,1104.82 L322.60,1105.62 L325.60,1106.42 L328.60,1107.22 L331.60,1108.01 L334.60,1108.81 L337.60,1109.61 L340.60,1110.40 L343.60,1111.19 L346.60,1111.96 L349.60,1112.73 L352.60,1113.50 L355.60,1114.25 L358.60,1114.99 L361.60,1115.71 L364.60,1116.43 L367.60,1117.12 L370.60,1117.80 L373.60,1118.47 L376.60,1119.12 L379.60,1119.76 L382.60,1120.38 L385.60,1120.98 L388.60,1121.57 L391.60,1122.14 L394.60,1122.70 L397.60,1123.24 L400.60,1123.76 L403.60,1124.27 L406.60,1124.76 L409.60,1125.23 L412.60,1125.69 L415.60,1126.13 L418.60,1126.56 L421.60,1126.96 L424.60,1127.35 L427.60,1127.73 L430.60,1128.08 L433.60,1128.42 L435.10,1128.58 L437.50,1130.98 L436.60,1131.14 L439.60,1131.44 L442.60,1131.73 L445.60,1132.00 L448.60,1132.25 L451.60,1132.48 L454.60,1132.69 L457.60,1132.89 L460.60,1133.06 L463.60,1133.22 L466.60,1133.36 L469.60,1133.48 L472.60,1133.59 L475.60,1133.67 L478.60,1133.73 L481.60,1133.78 L484.60,1133.80 L484.80,1133.81" fill="none" stroke="#c00a2c" stroke-width="2.9" stroke-linejoin="round"/>
<path d="M94.60,975.40 L97.60,978.24 L100.60,981.85 L103.60,985.96 L106.60,990.30 L109.60,994.60 L112.60,998.60 L115.60,1002.21 L118.60,1005.47 L121.60,1008.44 L124.60,1011.19 L127.60,1013.77 L130.60,1016.24 L133.60,1018.66 L136.60,1021.05 L139.60,1023.42 L142.60,1025.78 L145.60,1028.12 L148.60,1030.43 L151.60,1032.73 L154.60,1035.01 L157.60,1037.27 L160.60,1039.51 L163.60,1041.74 L166.60,1043.94 L169.60,1046.13 L172.60,1048.30 L175.60,1050.45 L178.60,1052.58 L181.60,1054.69 L184.60,1056.79 L187.60,1058.87 L190.60,1060.93 L193.60,1062.98 L196.60,1065.01 L199.60,1067.02 L202.60,1069.00 L205.60,1070.97 L208.60,1072.92 L211.60,1074.85 L214.60,1076.76 L217.60,1078.64 L220.60,1080.51 L223.60,1082.35 L226.60,1084.16 L229.60,1085.95 L232.60,1087.72 L235.60,1089.46 L238.60,1091.17 L241.60,1092.86 L244.60,1094.52 L247.60,1096.16 L250.60,1097.76 L253.60,1099.34 L256.60,1100.88 L259.60,1102.40 L262.60,1103.88 L265.60,1105.34 L268.60,1106.76 L271.60,1108.15 L274.60,1109.52 L277.60,1110.85 L280.60,1112.16 L283.60,1113.44 L286.60,1114.69 L289.60,1115.91 L292.60,1117.10 L295.60,1118.27 L298.60,1119.42 L301.60,1120.54 L304.60,1121.63 L307.60,1122.70 L310.60,1123.74 L313.60,1124.76 L316.60,1125.76 L319.60,1126.74 L322.60,1127.69 L325.60,1128.62 L328.60,1129.53 L331.60,1130.42 L334.60,1131.29 L337.60,1132.14 L340.60,1132.97 L343.60,1133.79 L346.60,1134.58 L349.60,1135.36 L352.60,1136.11 L355.60,1136.85 L358.60,1137.58 L361.60,1138.29 L364.60,1138.98 L367.60,1139.66 L370.60,1140.32 L373.60,1140.97 L376.60,1141.61 L379.60,1142.23 L382.60,1142.84 L385.60,1143.43 L388.60,1144.02 L391.60,1144.59 L394.60,1145.16 L397.60,1145.71 L400.60,1146.25 L403.60,1146.78 L406.60,1147.31 L409.60,1147.82 L412.60,1148.33 L415.60,1148.83 L418.60,1149.32 L421.60,1149.81 L424.60,1150.29 L427.60,1150.77 L430.60,1151.23 L433.60,1151.70 L436.60,1152.16 L439.60,1152.61 L442.60,1153.07 L445.60,1153.52 L448.60,1153.96 L451.60,1154.41 L454.60,1154.85 L457.60,1155.30 L460.60,1155.74 L463.60,1156.18 L466.60,1156.62 L469.60,1157.07 L472.60,1157.51 L475.60,1157.96 L478.60,1158.40 L481.60,1158.86 L484.60,1159.31 L484.80,1159.34" fill="none" stroke="#33a02c" stroke-width="2.9" stroke-dasharray="6.5 4.3 2 4.3"/>
<path d="M94.60,975.40 L97.60,977.48 L100.60,980.81 L103.60,985.04 L106.60,989.83 L109.60,994.85 L112.60,999.75 L115.60,1004.21 L118.60,1008.05 L121.60,1011.36 L124.60,1014.25 L127.60,1016.85 L130.60,1019.26 L133.60,1021.59 L136.60,1023.90 L139.60,1026.20 L142.60,1028.49 L145.60,1030.77 L148.60,1033.03 L151.60,1035.27 L154.60,1037.49 L157.60,1039.70 L160.60,1041.89 L163.60,1044.05 L166.60,1046.20 L169.60,1048.32 L172.60,1050.42 L175.60,1052.49 L178.60,1054.54 L181.60,1056.56 L184.60,1058.55 L187.60,1060.52 L190.60,1062.46 L193.60,1064.36 L196.60,1066.27 L199.60,1068.19 L202.60,1070.15 L205.60,1072.18 L208.60,1074.30 L211.60,1076.54 L214.60,1078.92 L217.60,1081.40 L220.60,1083.86 L223.60,1086.15 L226.60,1088.15 L229.60,1089.89 L232.60,1091.60 L235.60,1093.44 L238.60,1095.39 L241.60,1097.40 L244.60,1099.43 L247.60,1101.45 L250.60,1103.39 L253.60,1105.24 L256.60,1106.98 L259.60,1108.58 L262.60,1110.07 L265.60,1111.54 L268.60,1113.10 L271.60,1114.77 L274.60,1116.46 L277.60,1118.13 L280.60,1119.72 L283.60,1121.25 L286.60,1122.68 L289.60,1124.02 L292.60,1125.23 L295.60,1126.31 L298.60,1127.25 L301.60,1128.03 L304.60,1128.67 L307.60,1129.21 L310.60,1129.68 L313.60,1130.13 L316.60,1130.58 L319.60,1131.09 L322.60,1131.68 L325.60,1132.38 L328.60,1133.21 L331.60,1134.13 L334.60,1135.09 L337.60,1136.08 L340.60,1137.07 L343.60,1138.03 L346.60,1138.97 L349.60,1139.88 L352.60,1140.76 L355.60,1141.61 L358.60,1142.44 L361.60,1143.25 L364.60,1144.03 L367.60,1144.78 L370.60,1145.51 L373.60,1146.22 L376.60,1146.90 L379.60,1147.56 L382.60,1148.19 L385.60,1148.81 L388.60,1149.40 L391.60,1149.97 L394.60,1150.51 L397.60,1151.04 L400.60,1151.54 L403.60,1152.02 L406.60,1152.48 L409.60,1152.92 L412.60,1153.34 L415.60,1153.74 L418.60,1154.13 L421.60,1154.49 L424.60,1154.83 L427.60,1155.16 L430.60,1155.47 L433.60,1155.77 L434.30,1155.83 L436.70,1158.03 L436.60,1158.25 L439.60,1158.52 L442.60,1158.77 L445.60,1159.02 L448.60,1159.25 L451.60,1159.48 L454.60,1159.69 L457.60,1159.90 L460.60,1160.10 L463.60,1160.30 L466.60,1160.49 L469.60,1160.67 L472.60,1160.86 L475.60,1161.04 L478.60,1161.22 L481.60,1161.40 L484.60,1161.58 L486.00,1161.66" fill="none" stroke="#33a02c" stroke-width="2.9" stroke-linejoin="round"/>
<text x="94.13" y="1178.60" font-size="14.40" textLength="316.83" lengthAdjust="spacingAndGlyphs" fill="#1a1a1a" stroke="#1a1a1a" stroke-width="0.25">Pre Era: NHB aHR = 1.22, 95% CI (1.04-1.43)</text>
<text x="153.02" y="1195.10" font-size="14.40" textLength="283.34" lengthAdjust="spacingAndGlyphs" fill="#1a1a1a" stroke="#1a1a1a" stroke-width="0.25">Hispanic aHR = 1.01, 95% CI (0.84-1.21)</text>
<text x="94.12" y="1211.50" font-size="14.40" textLength="324.94" lengthAdjust="spacingAndGlyphs" fill="#1a1a1a" stroke="#1a1a1a" stroke-width="0.25">Post Era: NHB aHR = 0.86, 95% CI (0.69-1.08)</text>
<text x="159.82" y="1228.50" font-size="14.40" textLength="283.54" lengthAdjust="spacingAndGlyphs" fill="#1a1a1a" stroke="#1a1a1a" stroke-width="0.25">Hispanic aHR = 1.16, 95% CI (0.89-1.51)</text>
<line x1="75" x2="102.9" y1="1306.8" y2="1306.8" stroke="#0b3a75" stroke-width="2.3" stroke-dasharray="6.7 3.9"/>
<line x1="75" x2="105" y1="1328.7" y2="1328.7" stroke="#0b3a75" stroke-width="2.3"/>
<line x1="216.3" x2="244.3" y1="1306.9" y2="1306.9" stroke="#c00a2c" stroke-width="2.3" stroke-dasharray="6.7 3.95"/>
<line x1="216.3" x2="246.2" y1="1329" y2="1329" stroke="#c00a2c" stroke-width="2.4"/>
<line x1="352.8" x2="382.2" y1="1306.5" y2="1306.5" stroke="#33a02c" stroke-width="2.4" stroke-dasharray="6 4.5 2 4.5"/>
<line x1="352.8" x2="382.7" y1="1328.7" y2="1328.7" stroke="#33a02c" stroke-width="2.4"/>
<text x="110.32" y="1310.80" font-size="14.00" textLength="86.78" lengthAdjust="spacingAndGlyphs" fill="#1a1a1a" stroke="#1a1a1a" stroke-width="0.25">NHW Pre Era</text>
<text x="110.32" y="1332.60" font-size="14.00" textLength="93.48" lengthAdjust="spacingAndGlyphs" fill="#1a1a1a" stroke="#1a1a1a" stroke-width="0.25">NHW Post Era</text>
<text x="251.13" y="1310.80" font-size="14.00" textLength="82.67" lengthAdjust="spacingAndGlyphs" fill="#1a1a1a" stroke="#1a1a1a" stroke-width="0.25">NHB Pre Era</text>
<text x="251.12" y="1332.60" font-size="14.00" textLength="89.88" lengthAdjust="spacingAndGlyphs" fill="#1a1a1a" stroke="#1a1a1a" stroke-width="0.25">NHB Post Era</text>
<text x="388.26" y="1310.80" font-size="14.00" textLength="110.74" lengthAdjust="spacingAndGlyphs" fill="#1a1a1a" stroke="#1a1a1a" stroke-width="0.25">Hispanics Pre Era</text>
<text x="388.25" y="1332.60" font-size="14.00" textLength="118.45" lengthAdjust="spacingAndGlyphs" fill="#1a1a1a" stroke="#1a1a1a" stroke-width="0.25">Hispanics Post Era</text>
</svg>
</body></html>
